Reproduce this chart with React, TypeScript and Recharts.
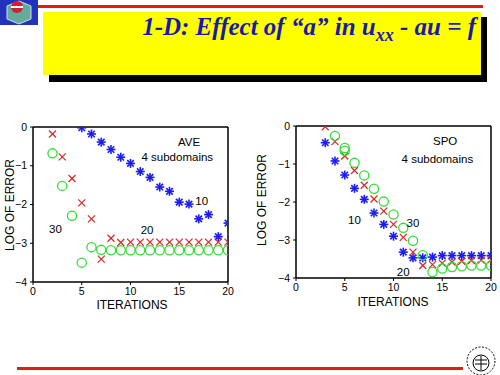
import React from 'react';
import { ScatterChart, Scatter, XAxis, YAxis, ReferenceDot, ReferenceArea } from 'recharts';

// ---------- DATA ----------
const xTicks = [0, 5, 10, 15, 20];
const yTicks = [-4, -3, -2, -1, 0];

// AVE (left)
const aveBlueIter = [5, 6, 7, 8, 9, 10, 11, 12, 13, 14, 15, 16, 17, 18, 19, 20];
const aveBlueLog = [-0.02, -0.18, -0.39, -0.58, -0.78, -0.94, -1.15, -1.3, -1.55, -1.66, -1.94, -1.99, -2.37, -2.26, -2.83, -2.48];
const aveRedIter = [2, 3, 4, 5, 6, 7, 8, 9, 10, 11, 12, 13, 14, 15, 16, 17, 18, 19, 20];
const aveRedLog = [-0.18, -0.77, -1.33, -1.96, -2.37, -3.41, -2.87, -2.98, -2.97, -2.97, -2.97, -2.97, -2.97, -2.97, -2.97, -2.97, -2.97, -2.97, -2.97];
const aveGreenIter = [2, 3, 4, 5, 6, 7, 8, 9, 10, 11, 12, 13, 14, 15, 16, 17, 18, 19, 20];
const aveGreenLog = [-0.68, -1.52, -2.29, -3.5, -3.1, -3.17, -3.18, -3.18, -3.18, -3.18, -3.18, -3.18, -3.18, -3.18, -3.18, -3.18, -3.18, -3.18, -3.18];
const aveNotes = ['AVE', '4 subdomains', '10', '30', '20'];
const aveNoteX = [16.0, 14.8, 17.3, 2.3, 11.7];
const aveNoteY = [-0.39, -0.78, -1.9, -2.62, -2.65];

// SPO (right)
const spoBlueIter = [3, 4, 5, 6, 7, 8, 9, 10, 11, 12, 13, 14, 15, 16, 17, 18, 19, 20];
const spoBlueLog = [-0.44, -0.92, -1.29, -1.64, -1.93, -2.29, -2.59, -2.9, -3.32, -3.47, -3.47, -3.45, -3.41, -3.41, -3.41, -3.41, -3.41, -3.41];
const spoRedIter = [3, 4, 5, 6, 7, 8, 9, 10, 11, 12, 13, 14, 15, 16, 17, 18, 19, 20];
const spoRedLog = [-0.02, -0.41, -0.79, -1.17, -1.56, -1.92, -2.24, -2.59, -2.93, -3.32, -3.67, -3.65, -3.61, -3.58, -3.56, -3.54, -3.53, -3.52];
const spoGreenIter = [4, 5, 5, 6, 7, 8, 9, 10, 11, 12, 13, 14, 15, 16, 17, 18, 19, 20];
const spoGreenLog = [-0.26, -0.58, -0.65, -0.97, -1.3, -1.65, -1.99, -2.33, -2.68, -3.02, -3.4, -3.84, -3.75, -3.71, -3.69, -3.67, -3.67, -3.67];
const spoNotes = ['SPO', '4 subdomains', '10', '30', '20'];
const spoNoteX = [15.3, 14.5, 6.0, 12.0, 11.0];
const spoNoteY = [-0.4, -0.87, -2.46, -2.54, -3.84];

// ---------- STYLE ----------
const BLUE = '#1c1cf0';
const RED = '#d42a2a';
const GREEN = '#33dd33';
const SANS = '"Liberation Sans", Arial, sans-serif';

const zip = (xs: number[], ys: number[]) => xs.map((x, i) => ({ x, y: ys[i] }));

const Star = (p: any) => {
  const { cx, cy } = p;
  const r = 4.5;
  const d = r * 0.72;
  return (
    <g stroke={BLUE} strokeWidth={1.6}>
      <line x1={cx - r} y1={cy} x2={cx + r} y2={cy} />
      <line x1={cx} y1={cy - r} x2={cx} y2={cy + r} />
      <line x1={cx - d} y1={cy - d} x2={cx + d} y2={cy + d} />
      <line x1={cx - d} y1={cy + d} x2={cx + d} y2={cy - d} />
    </g>
  );
};
const Cross = (p: any) => {
  const { cx, cy } = p;
  const r = 3.5;
  return (
    <g stroke={RED} strokeWidth={1.2}>
      <line x1={cx - r} y1={cy - r} x2={cx + r} y2={cy + r} />
      <line x1={cx - r} y1={cy + r} x2={cx + r} y2={cy - r} />
    </g>
  );
};
const Ring = (p: any) => {
  const { cx, cy } = p;
  return <circle cx={cx} cy={cy} r={4.6} fill="none" stroke={GREEN} strokeWidth={1.3} />;
};

const fmt = (v: number) => String(v).replace('-', '\u2212');

type PanelProps = {
  left: number; top: number; width: number; height: number;
  margin: { top: number; right: number; left: number; bottom: number };
  blue: { x: number; y: number }[];
  red: { x: number; y: number }[];
  green: { x: number; y: number }[];
  notes: string[]; nx: number[]; ny: number[];
};

const Panel = ({ left, top, width, height, margin, blue, red, green, notes, nx, ny }: PanelProps) => (
  <div style={{ position: 'absolute', left, top }}>
    <ScatterChart width={width} height={height} margin={margin}>
      <XAxis xAxisId="b" type="number" dataKey="x" domain={[0, 20]} ticks={xTicks} height={28}
        stroke="#000" tickSize={3} tickMargin={3}
        tick={{ fontSize: 10.5, fill: '#000', fontFamily: SANS }} allowDataOverflow />
      <XAxis xAxisId="t" type="number" dataKey="x" orientation="top" domain={[0, 20]} ticks={xTicks}
        mirror height={1} stroke="#000" tickSize={3} tick={false} />
      <YAxis yAxisId="l" type="number" dataKey="y" domain={[-4, 0]} ticks={yTicks} width={30}
        stroke="#000" tickSize={3} tickMargin={3} tickFormatter={fmt}
        tick={{ fontSize: 10.5, fill: '#000', fontFamily: SANS }} allowDataOverflow />
      <YAxis yAxisId="r" type="number" dataKey="y" orientation="right" domain={[-4, 0]} ticks={yTicks}
        mirror width={1} stroke="#000" tickSize={3} tick={false} />
      <ReferenceArea xAxisId="b" yAxisId="l" x1={0} x2={20} y1={-4} y2={0} fill="none" stroke="#000" strokeWidth={1} ifOverflow="visible" />
      <Scatter xAxisId="b" yAxisId="l" data={blue} shape={Star} isAnimationActive={false} />
      <Scatter xAxisId="b" yAxisId="l" data={red} shape={Cross} isAnimationActive={false} />
      <Scatter xAxisId="b" yAxisId="l" data={green} shape={Ring} isAnimationActive={false} />
      {notes.map((n, i) => (
        <ReferenceDot key={i} xAxisId="b" yAxisId="l" x={nx[i]} y={ny[i]} r={0} ifOverflow="visible"
          label={{ value: n, position: 'center', fill: '#000', fontSize: 11.5, fontFamily: SANS }} />
      ))}
    </ScatterChart>
  </div>
);

export default function App() {
  return (
    <div style={{ position: 'absolute', left: 0, top: 0, width: 500, height: 375, background: '#fff', overflow: 'hidden' }}>
      {/* slide decorations */}
      <svg width={500} height={375} style={{ position: 'absolute', left: 0, top: 0 }}>
        <rect x={0} y={0} width={38} height={25} fill="#2233bb" />
        <polygon points="19,1 31,6 31,19 19,24 7,19 7,6" fill="#66aa99" stroke="#ccddee" strokeWidth={1} />
        <circle cx={17} cy={7} r={6} fill="#cc2233" />
        <rect x={11} y={6} width={12} height={2} fill="#fff" />
        <rect x={38} y={5} width={445} height={3} fill="#e01b1b" />
        <rect x={49} y={17} width={438} height={65} fill="#000" />
        <rect x={43} y={12} width={438} height={63} fill="#ffff00" />
        <text x={476} y={35} textAnchor="end" fill="#1a1aa8" fontFamily='"Liberation Serif", "Times New Roman", serif'
          fontWeight="bold" fontStyle="italic" fontSize={25}>
          1-D: Effect of “a” in u<tspan fontSize={18} dy={6}>xx</tspan><tspan dy={-6}> - au = f</tspan>
        </text>
        <rect x={17} y={367} width={446} height={3} fill="#e01b1b" />
        <g stroke="#000" fill="none" strokeWidth={1}>
          <circle cx={481} cy={361} r={14} strokeDasharray="2 1.5" />
          <circle cx={481} cy={363} r={8} />
          <line x1={475} y1={360} x2={487} y2={360} />
          <line x1={475} y1={364} x2={487} y2={364} />
          <line x1={481} y1={356} x2={481} y2={370} />
        </g>
        <text x={0} y={0} transform="translate(11,205) rotate(-90)" textAnchor="middle" dominantBaseline="middle"
          fontFamily={SANS} fontSize={12} fill="#000">LOG OF ERROR</text>
        <text x={0} y={0} transform="translate(263,200) rotate(-90)" textAnchor="middle" dominantBaseline="middle"
          fontFamily={SANS} fontSize={12} fill="#000">LOG OF ERROR</text>
        <text x={132} y={306} textAnchor="middle" dominantBaseline="middle" fontFamily={SANS} fontSize={12} fill="#000">ITERATIONS</text>
        <text x={393} y={303} textAnchor="middle" dominantBaseline="middle" fontFamily={SANS} fontSize={12} fill="#000">ITERATIONS</text>
      </svg>
      <Panel left={0} top={118} width={245} height={192}
        margin={{ top: 9, right: 17, left: 3, bottom: 0 }}
        blue={zip(aveBlueIter, aveBlueLog)} red={zip(aveRedIter, aveRedLog)} green={zip(aveGreenIter, aveGreenLog)}
        notes={aveNotes} nx={aveNoteX} ny={aveNoteY} />
      <Panel left={250} top={117} width={250} height={189}
        margin={{ top: 9, right: 9, left: 16, bottom: 0 }}
        blue={zip(spoBlueIter, spoBlueLog)} red={zip(spoRedIter, spoRedLog)} green={zip(spoGreenIter, spoGreenLog)}
        notes={spoNotes} nx={spoNoteX} ny={spoNoteY} />
    </div>
  );
}
